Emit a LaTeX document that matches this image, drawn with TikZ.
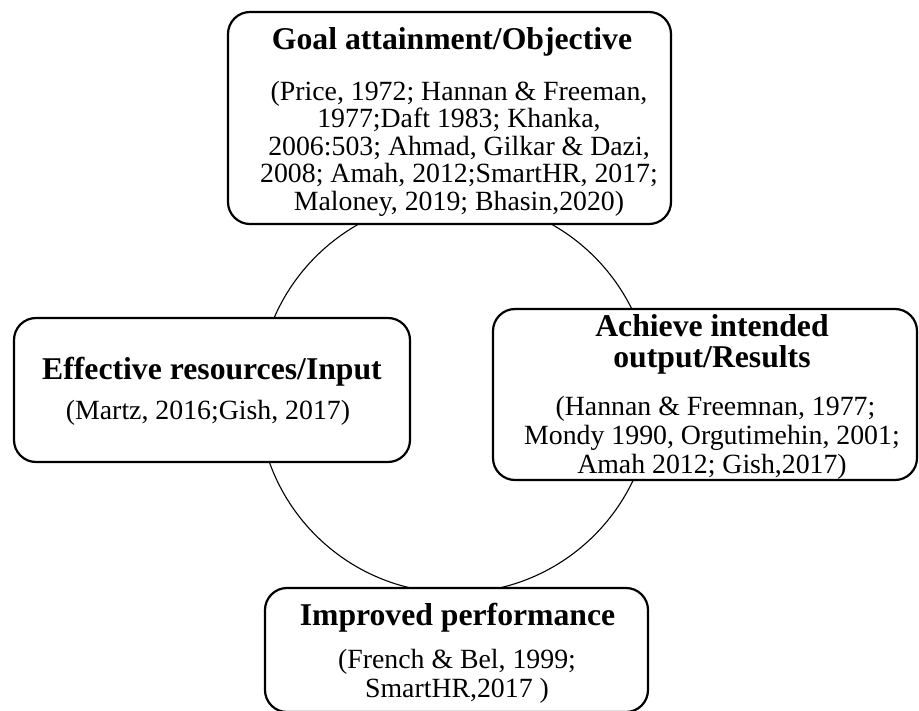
\documentclass[tikz,border=0pt]{standalone}
\usepackage{fontspec}
\setmainfont{Liberation Serif}
\newcommand\headfont{\fontsize{31.7}{32}\selectfont\bfseries}
\newcommand\reffont[1]{\fontsize{27.8}{#1}\selectfont}
\begin{document}
\begin{tikzpicture}[x=1pt,y=-1pt,
  card/.style={draw, line width=2.2pt, rounded corners=22pt, fill=white, inner sep=0pt, outer sep=0pt},
  head/.style={inner sep=0pt, anchor=base, align=center, font=\headfont},
  refs/.style={inner sep=0pt, anchor=base, align=center}]
\useasboundingbox (0,0) rectangle (919,711);

% the cycle behind the four cards
\coordinate (hub) at (455,396);
\draw[line width=1.1pt] (hub) circle[radius=197];

% cards
\node[card, minimum width=443pt, minimum height=212pt] (goalbox) at (449.5,118) {};
\node[card, minimum width=396pt, minimum height=144pt] (inputbox) at (212,390) {};
\node[card, minimum width=424pt, minimum height=171pt] (outputbox) at (705,394.5) {};
\node[card, minimum width=383pt, minimum height=124pt] (perfbox) at (456.5,650) {};

% goal attainment (multi-line nodes sit on the baseline of their last line)
\node[head] (goaltitle) at (452,50) {Goal attainment/Objective};
\node[refs, font=\reffont{27.6}] (goalrefs) at (459,210.5) {(Price, 1972; Hannan \& Freeman,\\
1977;Daft 1983; Khanka,\\
2006:503; Ahmad, Gilkar \& Dazi,\\
2008; Amah, 2012;SmartHR, 2017;\\
Maloney, 2019; Bhasin,2020)};

% effective resources
\node[head] (inputtitle) at (212,380) {Effective resources/Input};
\node[refs, font=\reffont{29}] (inputrefs) at (208,420) {(Martz, 2016;Gish, 2017)};

% intended output
\node[head] (outputtitle) at (712,368) {Achieve intended\\output/Results};
\node[refs, font=\reffont{29}] (outputrefs) at (712,473) {\ (Hannan \& Freemnan, 1977;\\
Mondy 1990, Orgutimehin, 2001;\\
Amah 2012; Gish,2017)};

% improved performance
\node[head] (perftitle) at (457.5,625) {Improved performance};
\node[refs, font=\reffont{29}] (perfrefs) at (457,697) {(French \& Bel, 1999;\\
SmartHR,2017 )};
\end{tikzpicture}
\end{document}
